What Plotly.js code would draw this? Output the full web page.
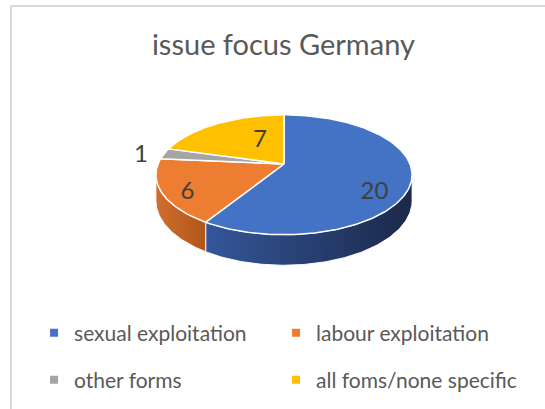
<!DOCTYPE html>
<html><head><meta charset="utf-8">
<script src="https://cdn.plot.ly/plotly-3.0.1.min.js"></script>
<style>html,body{margin:0;padding:0;background:#fff}</style>
</head><body><div id="chart" style="width:545px;height:409px"></div>
<script>
// ---- data ----
const categories = ["sexual exploitation", "labour exploitation", "other forms", "all foms/none specific"];
const values = [20, 6, 1, 7];
const titleText = "issue focus Germany";

// ---- style ----
const topColors = ["#4472C4", "#ED7D31", "#A5A5A5", "#FFC000"];
const sideColors = [["#34569a", "#1b2949"], ["#cf6f2e", "#b0551b"], ["#8a8a8a", "#707070"], ["#d9a300", "#b38600"]];
const labelRadius = [0.72, 0.80, 1.2, 0.33];
const labelDrop = [17, 7, 4, -8];
const FONT = "Lato, 'Open Sans', sans-serif";
const CX = 284, CY = 164, A = 126, B = 58, DEPTH = 25, P = 0.18;

function proj(theta, f, down) {
  const t = theta * Math.PI / 180;
  const u = Math.sin(t) * f, w = -Math.cos(t) * f;
  const s = 1 / (1 - P * w);
  return [CX + A * u * s, CY + B * w * s + (down ? DEPTH * s : 0)];
}
function arc(a0, a1, down) {
  const pts = [];
  const n = Math.max(2, Math.ceil(Math.abs(a1 - a0)));
  for (let k = 0; k <= n; k++) pts.push(proj(a0 + (a1 - a0) * k / n, 1, down));
  return pts;
}

const total = values.reduce((p, c) => p + c, 0);
const visLo = Math.acos(-P) * 180 / Math.PI;   // ~100 deg
const visHi = 360 - visLo;
const sides = [], tops = [], lx = [], ly = [], lt = [];
let cum = 0;
values.forEach((v, i) => {
  const a0 = cum / total * 360, a1 = (cum + v) / total * 360;
  cum += v;
  // side wall
  const lo = Math.max(a0, visLo), hi = Math.min(a1, visHi);
  if (hi > lo) {
    const pts = arc(lo, hi, false).concat(arc(hi, lo, true));
    pts.push(pts[0]);
    sides.push({
      type: "scatter", mode: "lines", fill: "toself",
      x: pts.map(p => p[0]), y: pts.map(p => p[1]),
      line: {color: "rgba(255,255,255,0.9)", width: 1},
      fillgradient: {type: "horizontal", colorscale: [[0, sideColors[i][0]], [1, sideColors[i][1]]]},
      showlegend: false, hoverinfo: "skip"
    });
  }
  // top face
  const c = proj(0, 0, false);
  const pts = [c].concat(arc(a0, a1, false)); pts.push(c);
  tops.push({
    type: "scatter", mode: "lines", fill: "toself",
    x: pts.map(p => p[0]), y: pts.map(p => p[1]),
    line: {color: "#ffffff", width: 1.5}, fillcolor: topColors[i],
    showlegend: false, hoverinfo: "skip"
  });
  const m = proj((a0 + a1) / 2, labelRadius[i], false);
  lx.push(m[0]); ly.push(m[1] + labelDrop[i]); lt.push(String(v));
});

const labels = {
  type: "scatter", mode: "text", x: lx, y: ly, text: lt,
  textfont: {family: FONT, size: 24, color: "#404040"},
  showlegend: false, hoverinfo: "skip"
};
const legendItems = categories.map((name, i) => ({
  type: "scatter", mode: "markers", x: [null], y: [null], name: name,
  marker: {symbol: "square", size: 8, color: topColors[i]},
  legend: i < 2 ? "legend" : "legend2", showlegend: true, hoverinfo: "skip"
}));

const legendBase = {
  orientation: "h", xanchor: "left", yanchor: "middle", x: 0.0625,
  entrywidth: 197, entrywidthmode: "pixels",
  font: {family: FONT, size: 21, color: "#595959"}, bgcolor: "rgba(0,0,0,0)"
};

const layout = {
  width: 545, height: 409,
  margin: {l: 0, r: 0, t: 0, b: 0},
  paper_bgcolor: "#ffffff", plot_bgcolor: "#ffffff",
  title: {text: titleText, font: {family: FONT, size: 29, color: "#595959"},
          x: 0.52, xanchor: "center", y: 0.89, yanchor: "middle"},
  xaxis: {range: [0, 545], visible: false, fixedrange: true},
  yaxis: {range: [409, 0], visible: false, fixedrange: true},
  showlegend: true,
  legend: Object.assign({}, legendBase, {y: 1 - 333 / 409}),
  legend2: Object.assign({}, legendBase, {y: 1 - 380 / 409}),
  shapes: [{type: "rect", xref: "paper", yref: "paper",
            x0: 11 / 545, x1: 1.05, y0: -0.05, y1: 1 - 6 / 409,
            line: {color: "#d9d9d9", width: 2}, layer: "below"}]
};

Plotly.newPlot("chart", sides.concat(tops, [labels], legendItems), layout, {displayModeBar: false, staticPlot: true});
</script></body></html>
